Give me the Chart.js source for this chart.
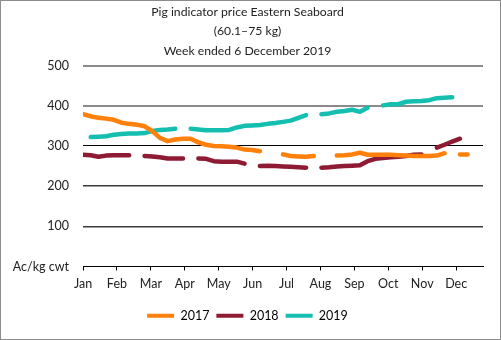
<!DOCTYPE html>
<html>
<head>
<meta charset="utf-8">
<script src="https://cdn.jsdelivr.net/npm/chart.js@4/dist/chart.umd.min.js"></script>
<style>
  html, body { margin: 0; padding: 0; background: #fff; }
  #wrap {
    width: 501px;
    height: 340px;
    box-sizing: border-box;
    border: 1px solid #8c8c8c;
    position: relative;
  }
</style>
</head>
<body>
<div id="wrap"><canvas id="pigChart"></canvas></div>
<script>
// Weekly prices (Ac/kg cwt), one entry per week from the first week of January; null = no quote
const months = ['Jan', 'Feb', 'Mar', 'Apr', 'May', 'Jun', 'Jul', 'Aug', 'Sep', 'Oct', 'Nov', 'Dec'];
const yTicks = [0, 100, 200, 300, 400, 500];

const price2017 = [379, 374, 370, 368, 365, 358, 355, 353, 349, 337, 320, 312, 316, 318, 318, 309,
    303, 300, 299, 298, 296, 291, 290, 287, null, null, 279, 275, 274, 273, 275, null, null,
    276, 277, 279, 283, 278, 278, 278, 278, 277, 276, 275, 275, 275, 276, 282, null, 279, 279];

const price2018 = [278, 277, 273, 276, 277, 277, 277, null, 275, 274, 272, 269, 269, 269, null,
    269, 268, 262, 261, 261, 261, 256, null, 250, 251, 250, 249, 248, 247, 246, null,
    246, 247, 249, 250, 251, 252, 262, 268, 270, 272, 273, 275, 278, 279, null, 296, 303, 311, 318];

const price2019 = [null, 322, 323, 324, 328, 330, 331, 331, 332, 337, 340, 341, 343, null,
    343, 341, 339, 339, 339, 340, 346, 350, 351, 352, 355, 357, 360, 363, 370, 377, null,
    379, 381, 385, 387, 390, 385, 395, null, 401, 404, 404, 410, 411, 412, 414, 419, 420, 421];

// axis spacing: weeks between month ticks, total weeks shown
const MONTH_STEP = 4.41;
const X_MAX = 52;

function toPoints(arr) {
    return arr.map((v, i) => ({ x: i, y: v }));
}

function lineSet(label, values, colour) {
    return {
        label: label,
        data: toPoints(values),
        borderColor: colour,
        backgroundColor: colour,
        borderWidth: 4.5,
        borderCapStyle: 'round',
        borderJoinStyle: 'round',
        pointRadius: 0,
        pointHoverRadius: 0,
        tension: 0,
        spanGaps: false
    };
}

Chart.defaults.font.family = 'Lato, "Open Sans", sans-serif';
Chart.defaults.font.size = 12.5;
Chart.defaults.color = '#333';

function gridColour(ctx) {
    const v = ctx.tick ? ctx.tick.value : 0;
    if (v >= 400) return '#8a8a8a';
    if (v === 300 || v === 0) return '#000';
    return '#3c3c3c';
}

function gridWidth(ctx) {
    const v = ctx.tick ? ctx.tick.value : 0;
    if (v >= 400) return 2;
    if (v === 300 || v === 0) return 1;
    return 1.4;
}

new Chart(document.getElementById('pigChart'), {
    type: 'line',
    data: {
        datasets: [
            lineSet('2017', price2017, '#ff800a'),
            lineSet('2018', price2018, '#8e1b33'),
            lineSet('2019', price2019, '#14bfb0')
        ]
    },
    options: {
        responsive: true,
        maintainAspectRatio: false,
        animation: false,
        layout: { padding: { left: 11, right: 17, top: 0, bottom: 7 } },
        plugins: {
            title: {
                display: true,
                text: ['Pig indicator price Eastern Seaboard', '(60.1\u201375 kg)', 'Week ended 6 December 2019'],
                font: { size: 12.2, weight: 'normal', lineHeight: 1.56 },
                color: '#222',
                padding: { top: 2, bottom: 5.5 }
            },
            legend: {
                position: 'bottom',
                labels: {
                    boxWidth: 27,
                    boxHeight: 4,
                    padding: 7,
                    color: '#222',
                    generateLabels(chart) {
                        return chart.data.datasets.map((ds, i) => ({
                            text: ds.label,
                            fillStyle: ds.borderColor,
                            strokeStyle: ds.borderColor,
                            lineWidth: 0,
                            hidden: false,
                            datasetIndex: i
                        }));
                    }
                }
            },
            tooltip: { enabled: false }
        },
        scales: {
            x: {
                type: 'linear',
                min: 0,
                max: X_MAX,
                afterBuildTicks(scale) {
                    scale.ticks = months.map((m, k) => ({ value: k * MONTH_STEP }));
                },
                afterFit(scale) {
                    // extra room between month labels and legend
                    scale.height += 5;
                },
                ticks: {
                    autoSkip: false,
                    maxRotation: 0,
                    padding: 6,
                    color: '#222',
                    callback: (v, idx) => months[idx]
                },
                grid: {
                    drawOnChartArea: false,
                    drawTicks: true,
                    tickLength: 4,
                    color: '#000'
                },
                border: { color: '#000', width: 1 }
            },
            y: {
                min: 0,
                max: 500,
                afterBuildTicks(scale) {
                    scale.ticks = yTicks.map(v => ({ value: v }));
                },
                afterFit(scale) {
                    scale.width = 71;
                },
                ticks: {
                    padding: 14,
                    color: '#222',
                    callback: v => (v === 0 ? 'Ac/kg cwt' : v)
                },
                grid: {
                    drawTicks: false,
                    color: gridColour,
                    lineWidth: gridWidth
                },
                border: { display: false }
            }
        }
    }
});
</script>
</body>
</html>
